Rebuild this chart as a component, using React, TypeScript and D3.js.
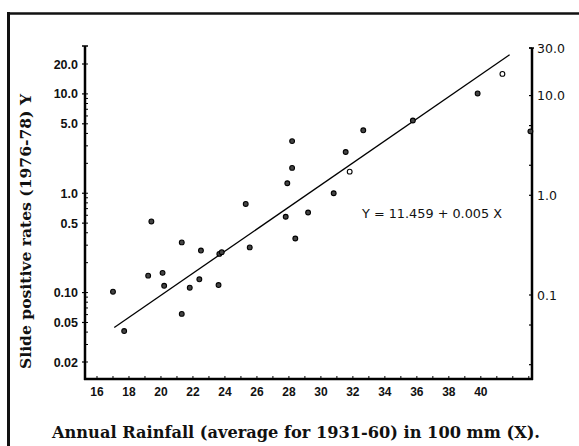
import React from 'react';
import * as d3 from 'd3';

// Annual rainfall (100 mm) vs slide positive rate
const rainfall = [
  17.0, 17.7, 19.4, 19.2, 20.1, 20.2, 21.3, 21.3, 21.8, 22.4,
  22.5, 23.6, 23.65, 23.8, 25.55, 25.3, 28.2, 28.2, 27.9, 27.8,
  29.2, 28.4, 30.8, 31.55, 31.8, 32.65, 35.75, 39.8, 41.35, 43.1,
];
const positiveRate = [
  0.102, 0.041, 0.52, 0.148, 0.158, 0.117, 0.32, 0.061, 0.112, 0.136,
  0.265, 0.119, 0.245, 0.255, 0.285, 0.78, 3.35, 1.8, 1.26, 0.58,
  0.64, 0.35, 1.0, 2.6, 1.65, 4.3, 5.4, 10.1, 15.9, 4.2,
];
// indices of the points drawn as open circles
const hollowPoints = [24, 28];

// fitted line end points
const fitX = [17.08, 41.8];
const fitY = [0.0445, 24.8];

const xTicks = [16, 18, 20, 22, 24, 26, 28, 30, 32, 34, 36, 38, 40];
const leftTicks = [20, 10, 5, 1, 0.5, 0.1, 0.05, 0.02];
const leftTickLabels = ['20.0', '10.0', '5.0', '1.0', '0.5', '0.10', '0.05', '0.02'];
const rightTicks = [30, 10, 1, 0.1];
const rightTickLabels = ['30.0', '10.0', '1.0', '0.1'];
const rightMinorTicks = [5, 2, 0.05, 0.02];

const equation = 'Y = 11.459 + 0.005 X';
const yTitle = 'Slide positive rates (1976-78) Y';
const xTitle = 'Annual Rainfall (average for 1931-60) in 100 mm (X).';

export default function App() {
  const width = 579;
  const height = 446;

  const x = d3.scaleLinear().domain([15.25, 43.2]).range([85, 532]);
  const y = d3.scaleLog().domain([0.02, 20]).range([362, 64]);
  const yRight = d3.scaleLog().domain([0.1, 30]).range([295, 48]);

  const axisTop = 46;
  const axisBottom = 379;
  const [x0, x1] = x.range();

  // log minor ticks on the left axis
  const minor: number[] = [];
  [0.01, 0.1, 1, 10].forEach(d => {
    for (let m = 1; m <= 9; m++) {
      const v = +(d * m).toPrecision(3);
      if (v >= 0.02 && v <= 20) minor.push(v);
    }
  });

  const xMinor = d3.range(16, 44, 1);

  const fitLine = d3.line<number>()
    .x((_, i) => x(fitX[i]))
    .y(d => y(d));

  const points = rainfall.map((r, i) => ({ r, p: positiveRate[i], hollow: hollowPoints.includes(i) }));

  const sans = 'Liberation Sans, Arial, sans-serif';
  const serif = 'DejaVu Serif, serif';

  return (
    <div style={{ position: 'fixed', left: 0, top: 0 }}>
      <svg width={width} height={height} style={{ display: 'block', background: '#fff' }}>
        {/* page frame, top and left edges */}
        <line x1={7} x2={width} y1={13.5} y2={13.5} stroke="#111" strokeWidth={2.5} />
        <line x1={8.5} x2={8.5} y1={12} y2={height} stroke="#111" strokeWidth={3} />

        {/* left axis */}
        <line x1={x0} x2={x0} y1={axisTop} y2={axisBottom + 1} stroke="#000" strokeWidth={2.5} />
        <line x1={x0 - 3} x2={x0 + 3} y1={axisTop} y2={axisTop} stroke="#000" strokeWidth={1.5} />
        {minor.map((v, i) => (
          <line key={'lm' + i} x1={x0} x2={x0 + 3} y1={y(v)} y2={y(v)} stroke="#000" strokeWidth={1} />
        ))}
        {leftTicks.map((v, i) => (
          <g key={'lt' + i}>
            <line x1={x0 - 3} x2={x0} y1={y(v)} y2={y(v)} stroke="#000" strokeWidth={1.2} />
            <text x={78} y={y(v)} dy="0.36em" textAnchor="end" fontFamily={sans}
              fontWeight="bold" fontSize={12.5} fill="#111">{leftTickLabels[i]}</text>
          </g>
        ))}

        {/* bottom axis */}
        <line x1={x0 - 1} x2={x1 + 1} y1={axisBottom} y2={axisBottom} stroke="#000" strokeWidth={2.5} />
        {xMinor.map(v => (
          <line key={'xm' + v} x1={x(v)} x2={x(v)} y1={axisBottom} y2={axisBottom - 3} stroke="#000" strokeWidth={1} />
        ))}
        {xTicks.map(v => (
          <text key={'xt' + v} x={x(v)} y={396} textAnchor="middle" fontFamily={sans}
            fontWeight="bold" fontSize={12} fill="#111">{v}</text>
        ))}

        {/* right axis */}
        <line x1={x1} x2={x1} y1={yRight(30)} y2={axisBottom + 1} stroke="#000" strokeWidth={2.5} />
        <line x1={x1 - 3} x2={x1 + 2} y1={yRight(30)} y2={yRight(30)} stroke="#000" strokeWidth={1.5} />
        {rightMinorTicks.map(v => (
          <line key={'rm' + v} x1={x1 - 3} x2={x1} y1={yRight(v)} y2={yRight(v)} stroke="#000" strokeWidth={1.2} />
        ))}
        {rightTicks.map((v, i) => (
          <g key={'rt' + i}>
            <line x1={x1 - 3} x2={x1} y1={yRight(v)} y2={yRight(v)} stroke="#000" strokeWidth={1.2} />
            <text x={x1 + 5} y={yRight(v)} dy="0.36em" textAnchor="start" fontFamily="DejaVu Sans, sans-serif"
              fontSize={12.5} fill="#111">{rightTickLabels[i]}</text>
          </g>
        ))}

        {/* regression line */}
        <path d={fitLine(fitY) || ''} fill="none" stroke="#000" strokeWidth={1.3} />

        {/* observations */}
        {points.map((d, i) => (
          <circle key={'pt' + i} cx={x(d.r)} cy={y(d.p)} r={2.4}
            fill={d.hollow ? '#fff' : '#444'} stroke="#000" strokeWidth={1.1} />
        ))}

        <text x={362} y={218} fontFamily="DejaVu Sans, sans-serif" fontSize={12.5} fill="#111"
          textLength={140} lengthAdjust="spacingAndGlyphs">{equation}</text>

        {/* axis titles */}
        <text transform="translate(31,231.5) rotate(-90)" textAnchor="middle" fontFamily={serif}
          fontWeight="bold" fontSize={14} fill="#111" textLength={275} lengthAdjust="spacingAndGlyphs">{yTitle}</text>
        <text x={296} y={438} textAnchor="middle" fontFamily={serif} fontWeight="bold" fontSize={16}
          fill="#111" textLength={488} lengthAdjust="spacingAndGlyphs">{xTitle}</text>
      </svg>
    </div>
  );
}
